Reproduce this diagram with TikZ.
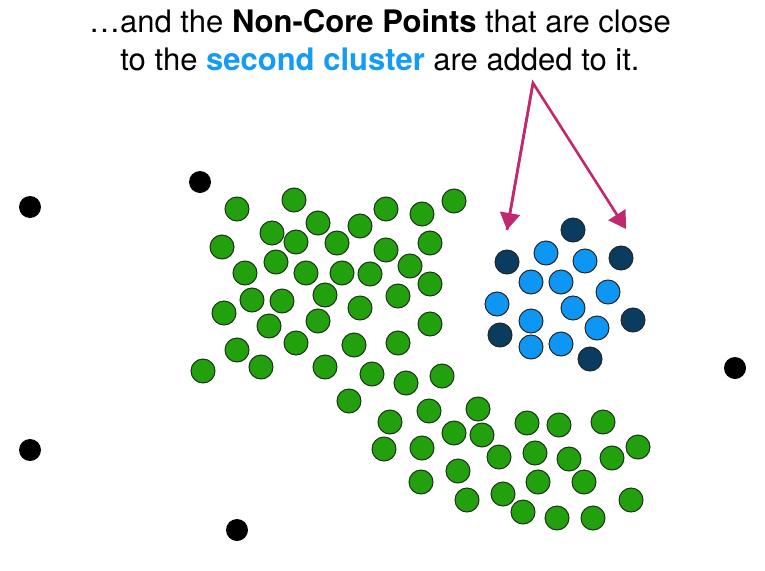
\documentclass[tikz,border=0pt]{standalone}
\usepackage{fontspec}
\setmainfont{TeX Gyre Heros}
\usepackage{tikz}
\usetikzlibrary{arrows.meta}
\usepackage{xcolor}
\definecolor{coregreen}{RGB}{34,160,14}
\definecolor{greenrim}{RGB}{28,52,24}
\definecolor{clusterblue}{RGB}{14,150,245}
\definecolor{borderblue}{RGB}{9,60,95}
\definecolor{arrowpink}{RGB}{192,41,110}
\definecolor{titleblue}{RGB}{20,155,245}

\begin{document}
\begin{tikzpicture}[x=1pt, y=-1pt,
        dotpt/.style={circle, minimum size=24pt, inner sep=0pt},
        greenpt/.style={dotpt, draw=greenrim, line width=1pt, fill=coregreen},
        bluept/.style={dotpt, draw=black!85, line width=1pt, fill=clusterblue},
        edgept/.style={dotpt, draw=black!85, line width=1pt, fill=borderblue},
        outlier/.style={dotpt, fill=black, minimum size=22pt},
        pointer/.style={arrowpink, line width=2.6pt, -{Triangle[width=20pt,length=17pt]}}
      ]
      \useasboundingbox (0,0) rectangle (765,570);
      % title
      \node[align=center, font=\fontsize{31}{38}\selectfont] (title) at (380,40)
        {\dots and the \textbf{Non-Core Points} that are close\\
         to the \textcolor{titleblue}{\textbf{second cluster}} are added to it.};
      % first cluster
      \foreach \x/\y [count=\i] in {
          237/209, 294/200, 318/223, 360/226, 386/209, 422/214, 454/201,
          272/233, 296/242, 337/243, 386/250, 430/243, 222/247, 276/262,
          245/273, 306/273, 342/273, 370/274, 410/266, 430/284, 252/300,
          282/301, 325/295, 360/308, 398/296, 224/313, 269/326, 318/321,
          430/324, 237/350, 296/343, 354/345, 398/343, 203/371, 261/367,
          325/367, 372/374, 406/383, 442/376, 349/401, 390/422, 429/411,
          478/409, 454/433, 482/435, 527/423, 559/425, 603/422, 384/449,
          422/448, 499/457, 535/453, 569/459, 612/458, 638/447, 421/482,
          458/471, 538/482, 584/482, 467/500, 503/494, 523/512, 557/518,
          593/518, 631/500}
        \node[greenpt] (g\i) at (\x,\y) {};
      % second cluster
      \foreach \x/\y [count=\i] in {
          546/253, 585/261, 531/282, 561/282, 608/292, 497/304, 573/308,
          531/321, 597/328, 531/347, 561/344}
        \node[bluept] (b\i) at (\x,\y) {};
      \foreach \x/\y [count=\i] in {
          573/230, 507/262, 621/258, 633/320, 500/335, 590/359}
        \node[edgept] (e\i) at (\x,\y) {};
      % noise
      \node[outlier] (n1) at (30,207)  {};
      \node[outlier] (n2) at (200,182) {};
      \node[outlier] (n3) at (735,368) {};
      \node[outlier] (n4) at (30,450)  {};
      \node[outlier] (n5) at (237,530) {};
      % arrows
      \coordinate (src) at (533,83);
      \coordinate (tipL) at (507,230);
      \coordinate (tipR) at (626,229);
      \draw[pointer, line join=miter] (tipL) -- (src) -- (tipR);
      \draw[pointer] (src) -- (tipL);
    \end{tikzpicture}
\end{document}
